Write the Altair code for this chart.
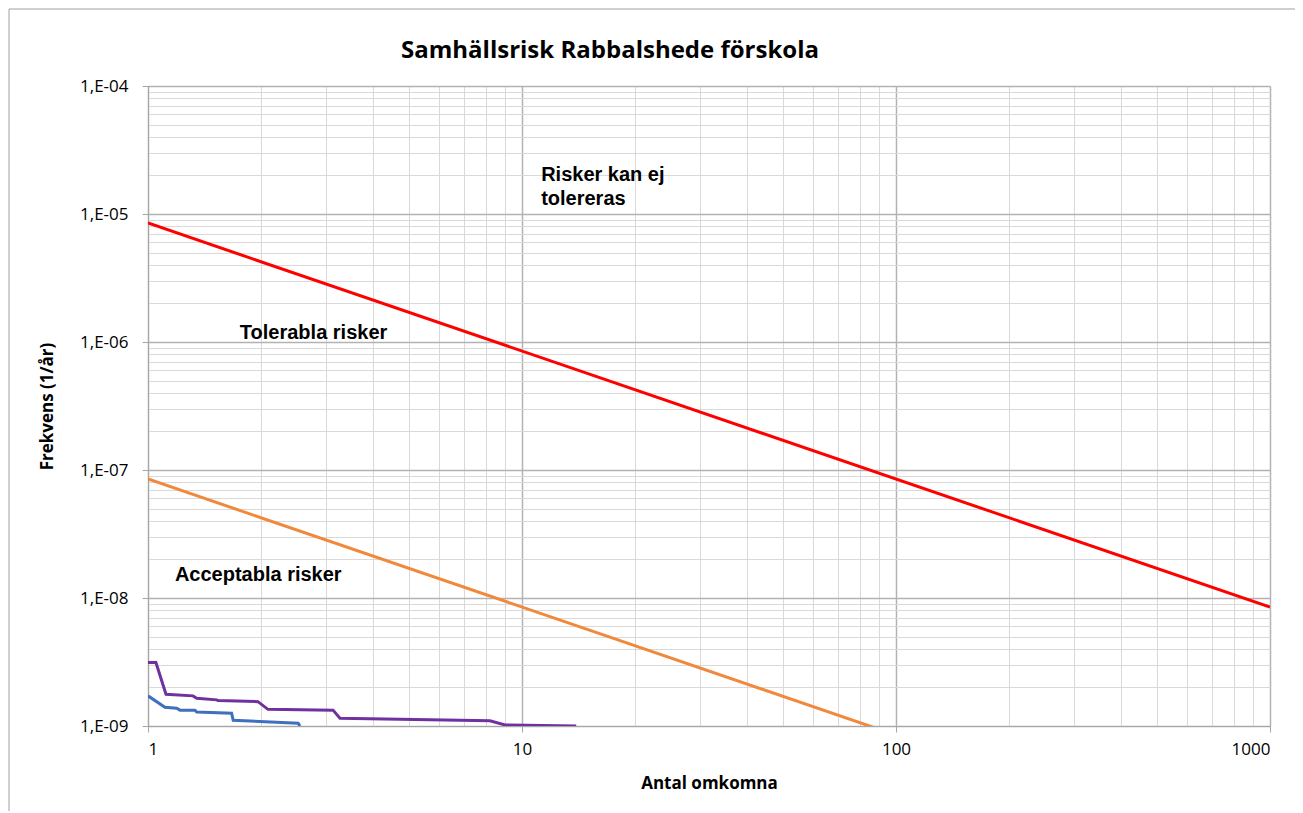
import altair as alt
import pandas as pd

# ---- data ----
red_x = [1, 1000]
red_y = [8.5e-6, 8.5e-9]

orange_x = [1, 100]
orange_y = [8.5e-8, 8.5e-10]

purple_x = [1, 1.05, 1.117, 1.319, 1.35, 1.526, 1.539, 1.968, 2.093, 3.125, 3.26, 8.21, 9.0, 13.96]
purple_y = [3.13e-9, 3.13e-9, 1.77e-9, 1.72e-9, 1.65e-9, 1.6e-9, 1.58e-9, 1.55e-9, 1.35e-9, 1.33e-9,
            1.148e-9, 1.1e-9, 1.02e-9, 1.0e-9]

blue_x = [1, 1.11, 1.193, 1.218, 1.335, 1.35, 1.673, 1.69, 2.52, 2.55]
blue_y = [1.72e-9, 1.4e-9, 1.375e-9, 1.33e-9, 1.33e-9, 1.286e-9, 1.26e-9, 1.11e-9, 1.05e-9, 1.0e-9]

ann_text = ["Risker kan ej", "tolereras", "Tolerabla risker", "Acceptabla risker"]
ann_x = [11.25, 11.25, 1.76, 1.18]
ann_y = [2.02e-5, 1.31e-5, 1.17e-6, 1.5e-8]

title_text = "Samhällsrisk Rabbalshede förskola"

x_ticks = [m * 10 ** e for e in range(0, 3) for m in range(1, 10)] + [1000]
y_ticks = [m * 10.0 ** e for e in range(-9, -4) for m in range(1, 10)] + [1e-4]

is_major = "abs(log(datum.value)/LN10 - round(log(datum.value)/LN10)) < 0.001"

xscale = alt.Scale(type="log", domain=[1, 1000])
yscale = alt.Scale(type="log", domain=[1e-9, 1e-4])

common = dict(
    labelOverlap=False,
    labelFont="Open Sans", labelFontSize=17, labelColor="#000000",
    titleFont="Open Sans", titleFontSize=17, titleFontWeight="bold", titleColor="#000000",
    domainColor="#a6a6a6", tickSize=6,
    tickColor={"condition": {"test": is_major, "value": "#a6a6a6"}, "value": "transparent"},
    gridColor={"condition": {"test": is_major, "value": "#b3b3b3"}, "value": "#d9d9d9"},
    gridWidth={"condition": {"test": is_major, "value": 1.5}, "value": 1},
)

xaxis = alt.Axis(
    values=x_ticks,
    labelExpr=f"({is_major}) ? format(datum.value, 'd') : ''",
    labelPadding=9, title="Antal omkomna", titlePadding=18, **common,
)
yaxis = alt.Axis(
    values=y_ticks,
    labelExpr=f"({is_major}) ? '1,E-' + pad(toString(-round(log(datum.value)/LN10)), 2, '0', 'left') : ''",
    labelPadding=14, title="Frekvens (1/år)", titlePadding=23, **common,
)


def series(xs, ys, color, width):
    df = pd.DataFrame({"x": xs, "y": ys, "o": list(range(len(xs)))})
    return alt.Chart(df).mark_line(color=color, strokeWidth=width, clip=True).encode(
        x=alt.X("x:Q", scale=xscale, axis=xaxis),
        y=alt.Y("y:Q", scale=yscale, axis=yaxis),
        order="o:O",
    )


red = series(red_x, red_y, "#ff0000", 3)
orange = series(orange_x, orange_y, "#f0893b", 3)
purple = series(purple_x, purple_y, "#7030a0", 3)
blue = series(blue_x, blue_y, "#3f6fbf", 3)

ann = alt.Chart(pd.DataFrame({"t": ann_text, "x": ann_x, "y": ann_y})).mark_text(
    align="left", baseline="middle", font="Liberation Sans", fontSize=20, fontWeight="bold", color="#000000"
).encode(x=alt.X("x:Q", scale=xscale), y=alt.Y("y:Q", scale=yscale), text="t:N")

one = pd.DataFrame({"a": [0]})
title = alt.Chart(pd.DataFrame({"t": [title_text]})).mark_text(
    align="center", baseline="middle", font="Open Sans", fontSize=24, fontWeight="bold", color="#000000"
).encode(x=alt.value(462), y=alt.value(-35), text="t:N")

frame_top = alt.Chart(one).mark_rule(color="#a0a0a0", strokeWidth=1).encode(
    x=alt.value(-139), x2=alt.value(1160), y=alt.value(-77)
)
frame_left = alt.Chart(one).mark_rule(color="#a0a0a0", strokeWidth=1).encode(
    x=alt.value(-139), y=alt.value(-77), y2=alt.value(780)
)

chart = alt.layer(orange, red, purple, blue, ann, title, frame_top, frame_left).properties(
    width=1122,
    height=640,
    autosize=alt.AutoSizeParams(type="none"),
    padding={"left": 140, "top": 78, "right": 25, "bottom": 85},
).configure_view(stroke=None).configure(background="#ffffff")

chart.save("out.html", embed_options={"renderer": "svg", "actions": False})
